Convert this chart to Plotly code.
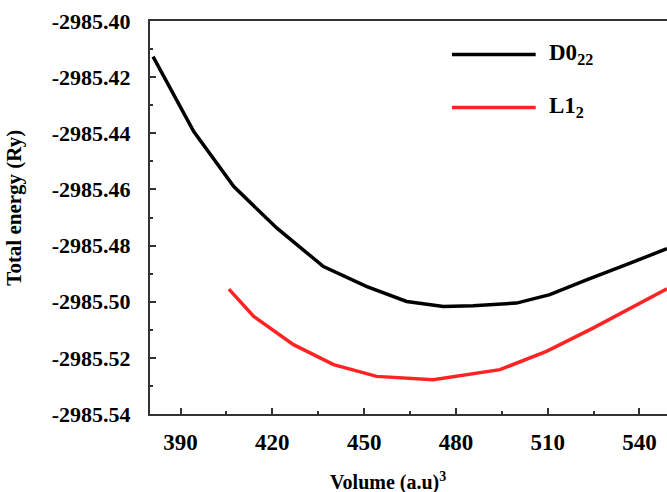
import plotly.graph_objects as go

# ---- data ----
d022_volume = [381.0, 394.3, 407.4, 421.5, 436.7, 450.9, 463.9, 475.9, 485.6, 499.8, 510.7, 522.7, 535.7, 549.0]
d022_energy = [-2985.4127, -2985.4394, -2985.4590, -2985.4738, -2985.4875, -2985.4946, -2985.4999,
               -2985.5017, -2985.5014, -2985.5005, -2985.4975, -2985.4922, -2985.4868, -2985.4811]

l12_volume = [405.8, 413.9, 426.9, 440.0, 454.1, 461.7, 472.6, 494.4, 509.6, 524.8, 549.0]
l12_energy = [-2985.4955, -2985.5052, -2985.5153, -2985.5224, -2985.5266, -2985.5272, -2985.5278,
              -2985.5242, -2985.5177, -2985.5094, -2985.4954]

x_tick_vals = [390, 420, 450, 480, 510, 540]
x_tick_text = ["390", "420", "450", "480", "510", "540"]
y_tick_vals = [-2985.40, -2985.42, -2985.44, -2985.46, -2985.48, -2985.50, -2985.52, -2985.54]
y_tick_text = ["-2985.40", "-2985.42", "-2985.44", "-2985.46", "-2985.48", "-2985.50", "-2985.52", "-2985.54"]

series_names = ["D0<sub>22</sub>", "L1<sub>2</sub>"]
series_colors = ["#000000", "#ff2424"]

FONT = "Liberation Serif"

fig = go.Figure()
fig.add_trace(go.Scatter(x=d022_volume, y=d022_energy, mode="lines",
                         line=dict(color=series_colors[0], width=3.5), name=series_names[0],
                         showlegend=False))
fig.add_trace(go.Scatter(x=l12_volume, y=l12_energy, mode="lines",
                         line=dict(color=series_colors[1], width=3.5), name=series_names[1],
                         showlegend=False))

# legend drawn manually (long sample lines like the reference)
leg_y = [0.915, 0.78]
for name, color, yy in zip(series_names, series_colors, leg_y):
    fig.add_shape(type="line", xref="paper", yref="paper", x0=0.584, x1=0.746, y0=yy, y1=yy,
                  line=dict(color=color, width=3.5))
    fig.add_annotation(xref="paper", yref="paper", x=0.768, y=yy, xanchor="left", yanchor="middle",
                       text="<b>" + name + "</b>", showarrow=False,
                       font=dict(family=FONT, size=23, color="#000"))

fig.add_annotation(xref="paper", yref="paper", x=0.46, y=-0.135, xanchor="center", yanchor="top",
                   text="<b>Volume (a.u)<sup>3</sup></b>", showarrow=False,
                   font=dict(family=FONT, size=20, color="#000"))
fig.add_annotation(xref="paper", yref="paper", x=-0.263, y=0.525, xanchor="center", yanchor="middle",
                   textangle=-90, text="<b>Total energy (Ry)</b>", showarrow=False,
                   font=dict(family=FONT, size=21, color="#000"))

fig.update_xaxes(range=[380, 549], tickmode="array", tickvals=x_tick_vals,
                 ticktext=["<b>" + t + "</b>" for t in x_tick_text],
                 ticks="inside", ticklen=6, tickwidth=1.5, tickcolor="#333", ticklabelstandoff=6,
                 minor=dict(ticks="inside", ticklen=3, dtick=15, tick0=375, tickcolor="#333"),
                 showline=True, linecolor="#333", linewidth=2, mirror=True,
                 showgrid=False, zeroline=False,
                 tickfont=dict(family=FONT, size=23, color="#000"))
fig.update_yaxes(range=[-2985.54, -2985.40], tickmode="array", tickvals=y_tick_vals,
                 ticktext=["<b>" + t + "</b>" for t in y_tick_text],
                 ticks="inside", ticklen=6, tickwidth=1.5, tickcolor="#333", ticklabelstandoff=13,
                 minor=dict(ticks="inside", ticklen=3, dtick=0.01, tickcolor="#333"),
                 showline=True, linecolor="#333", linewidth=2, mirror=False,
                 showgrid=False, zeroline=False,
                 tickfont=dict(family=FONT, size=22, color="#000"))

fig.update_layout(width=667, height=492, margin=dict(l=150, r=0, t=21, b=78),
                  plot_bgcolor="white", paper_bgcolor="white",
                  font=dict(family=FONT, color="#000"))

fig.write_html("out.html", config={"displayModeBar": False},
               post_script="document.body.style.margin='0';document.body.style.overflow='hidden';")
